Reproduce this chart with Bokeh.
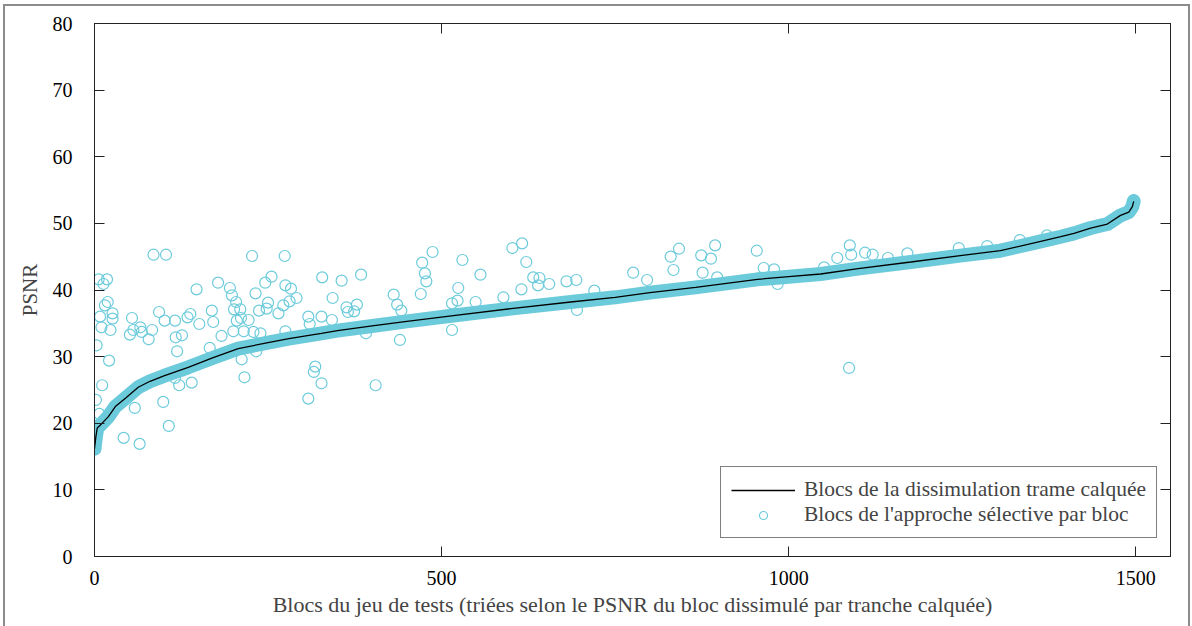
from bokeh.plotting import figure
from bokeh.models import (Range1d, LinearAxis, FixedTicker, Legend, LegendItem,
                          InlineStyleSheet)
from bokeh.embed import file_html
from bokeh.resources import INLINE

# ---- data ----
# black curve (sorted PSNR of the "trame calquée" concealment)
line_x = [0, 2, 4, 10, 20, 30, 45, 63, 80, 100, 135, 170, 207, 250, 280, 327, 350, 400,
          450, 520, 600, 686, 750, 800, 866, 955, 1000, 1046, 1100, 1176, 1250, 1305,
          1363, 1392, 1411, 1435, 1459, 1478, 1490, 1495, 1497]
line_y = [16.2, 18.0, 19.3, 19.9, 21.0, 22.5, 23.8, 25.4, 26.3, 27.1, 28.4, 29.8, 31.2,
          32.1, 32.7, 33.5, 33.9, 34.6, 35.3, 36.2, 37.2, 38.2, 38.9, 39.6, 40.4, 41.6,
          42.0, 42.4, 43.2, 44.2, 45.2, 45.9, 47.3, 48.0, 48.5, 49.3, 49.9, 51.2, 51.7,
          52.5, 53.3]

# selective approach blocks lying away from the dense band
out_x = [85, 103, 227, 274, 6, 18, 13, 255, 328, 178, 147, 246, 275, 283, 195, 198, 232,
         291, 281, 19, 15, 343, 204, 250, 272, 169, 201, 210, 237, 248, 265, 93, 138, 134,
         26, 26, 8, 54, 101, 116, 151, 171, 205, 222, 211, 308, 327, 310, 342, 10, 23, 66,
         56, 51, 78, 83, 68, 117, 126, 183, 200, 215, 229, 239, 275, 3, 21, 119, 166, 212,
         233, 318, 316, 327, 216, 308, 11, 122, 140, 116, 2, 58, 99, 7, 107, 42, 65, 1, 2,
         487, 602, 616, 472, 530, 622, 476, 478, 384, 356, 556, 632, 641, 639, 655, 680,
         694, 615, 524, 470, 431, 436, 442, 378, 363, 365, 374, 515, 523, 549, 589, 515,
         440, 391, 405, 695,
         894, 842, 830, 874, 888, 954, 776, 834, 876, 796, 720, 964, 979, 984, 897,
         1088, 1090, 1070, 1110, 1121, 1171, 1143, 1245, 1333, 1286, 1087, 1051, 1372,
         1497]
out_y = [45.3, 45.3, 45.1, 45.1, 41.6, 41.6, 40.9, 42.0, 41.9, 41.1, 40.1, 41.1, 40.7,
         40.2, 40.3, 39.2, 39.5, 38.8, 38.3, 38.2, 37.7, 38.8, 38.2, 38.1, 37.7, 36.9,
         37.1, 37.1, 36.9, 37.2, 36.5, 36.7, 36.4, 35.9, 36.5, 35.7, 36.0, 35.8, 35.4,
         35.4, 34.9, 35.2, 35.4, 35.5, 35.8, 36.0, 36.0, 34.9, 35.5, 34.4, 34.0, 34.4,
         34.0, 33.3, 32.6, 34.0, 33.7, 32.9, 33.2, 33.1, 33.8, 33.8, 33.7, 33.5, 33.8,
         31.7, 29.4, 30.8, 31.3, 29.6, 30.8, 28.5, 27.7, 26.0, 26.9, 23.7, 25.7, 25.7,
         26.1, 26.8, 23.5, 22.3, 23.2, 21.4, 19.6, 17.8, 16.9, 16.1, 18.2,
         45.7, 46.3, 47.0, 44.1, 44.5, 44.2, 42.5, 41.3, 42.3, 41.4, 42.3, 41.9, 41.8,
         40.7, 40.9, 41.3, 41.5, 40.1, 40.3, 39.4, 39.3, 37.8, 36.9, 37.8, 37.4, 36.7,
         36.8, 38.0, 38.4, 38.2, 38.9, 34.0, 32.5, 33.5, 25.7, 37.0,
         46.7, 46.2, 45.0, 45.2, 44.7, 45.9, 42.6, 43.0, 42.6, 41.5, 39.9, 43.3, 43.1,
         40.9, 41.9,
         46.7, 45.3, 44.8, 45.6, 45.3, 45.5, 44.8, 46.3, 47.5, 46.6, 28.3, 43.4, 48.2,
         53.5]

x_ticks = [0, 500, 1000, 1500]
y_ticks = [0, 10, 20, 30, 40, 50, 60, 70, 80]

label_line = "Blocs de la dissimulation trame calquée"
label_circ = "Blocs de l'approche sélective par bloc"
x_label = "Blocs du jeu de tests (triées selon le PSNR du bloc dissimulé par tranche calquée)"
y_label = "PSNR"

FONT = "Liberation Serif"
CYAN = "#6ccbdb"

frame_css = InlineStyleSheet(css="""
:host { position: relative; overflow: hidden; }
:host::after { content: ''; position: absolute; left: 3px; right: 2px; top: 4px;
  bottom: -30px; border: 2px solid #8c8c8c; box-sizing: border-box;
  pointer-events: none; z-index: 10; }
""")

p = figure(width=1192, height=626, output_backend="svg", toolbar_location=None,
           x_range=Range1d(0, 1550), y_range=Range1d(0, 80),
           min_border_left=94, min_border_right=22, min_border_top=23,
           min_border_bottom=70, stylesheets=[frame_css])
p.xgrid.visible = False
p.ygrid.visible = False
p.outline_line_color = "black"
p.outline_line_width = 1

def style_axis(ax, show_labels=True):
    ax.major_tick_in = 10
    ax.major_tick_out = 0
    ax.minor_tick_line_color = None
    ax.axis_line_color = "#222222"
    ax.major_tick_line_color = "#222222"
    ax.major_label_text_font = FONT
    ax.major_label_text_font_size = "20px"
    ax.major_label_text_color = "black" if show_labels else None

style_axis(p.xaxis[0])
p.xaxis[0].ticker = FixedTicker(ticks=x_ticks)
p.xaxis[0].major_label_standoff = 14
p.xaxis[0].axis_label = x_label
p.xaxis[0].axis_label_text_font = FONT
p.xaxis[0].axis_label_text_font_size = "22px"
p.xaxis[0].axis_label_text_font_style = "normal"
p.xaxis[0].axis_label_standoff = 4

style_axis(p.yaxis[0])
p.yaxis[0].ticker = FixedTicker(ticks=y_ticks)
p.yaxis[0].major_label_standoff = 22
p.yaxis[0].axis_label = y_label
p.yaxis[0].axis_label_text_font = FONT
p.yaxis[0].axis_label_text_font_size = "21px"
p.yaxis[0].axis_label_text_font_style = "normal"
p.yaxis[0].axis_label_standoff = 8

top_ax = LinearAxis(ticker=FixedTicker(ticks=x_ticks))
style_axis(top_ax, False)
p.add_layout(top_ax, "above")
right_ax = LinearAxis(ticker=FixedTicker(ticks=y_ticks))
style_axis(right_ax, False)
p.add_layout(right_ax, "right")

# dense band of selective-approach blocks following the curve
band = p.line(line_x, line_y, line_color=CYAN, line_width=14, line_cap="round",
              line_join="round")
sc = p.scatter(out_x, out_y, marker="circle", size=11, fill_color=None,
               line_color=CYAN, line_width=1.2)
ln = p.line(line_x, line_y, line_color="black", line_width=1.3)

legend = Legend(items=[LegendItem(label=label_line, renderers=[ln]),
                       LegendItem(label=label_circ, renderers=[sc])],
                location=(626, 18), glyph_width=64, glyph_height=20,
                label_standoff=9, padding=10, spacing=0, margin=0,
                label_height=22, label_text_font=FONT, label_text_font_size="21.5px",
                border_line_color="black", border_line_width=1,
                background_fill_color="white", background_fill_alpha=1)
p.add_layout(legend, "center")

open("out.html", "w").write(file_html(p, INLINE))
